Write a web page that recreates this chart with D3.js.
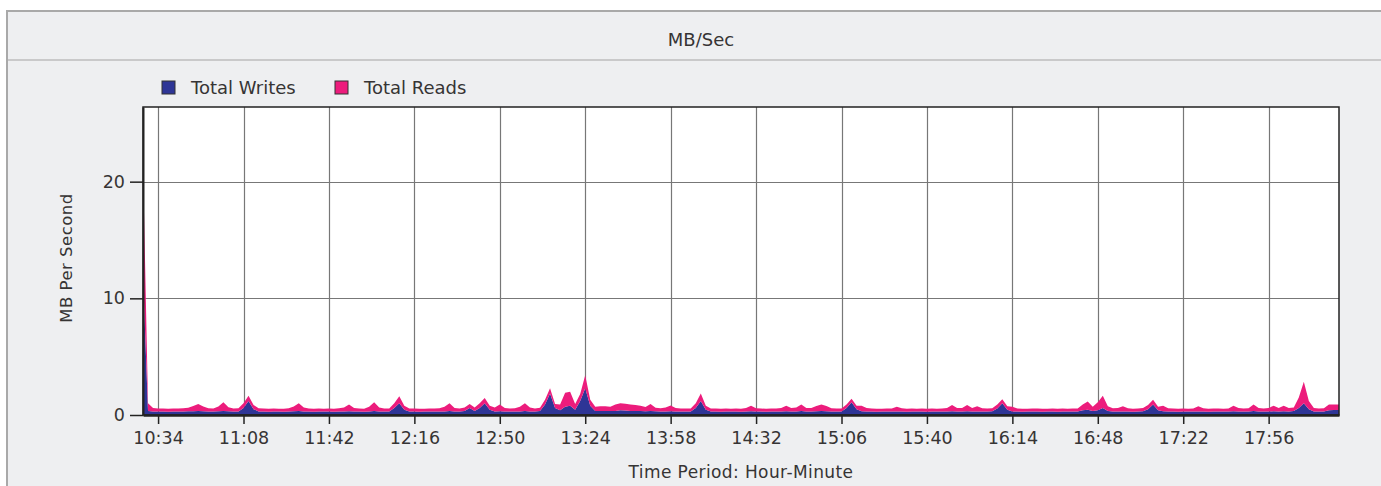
<!DOCTYPE html>
<html>
<head>
<meta charset="utf-8">
<script src="https://cdn.jsdelivr.net/npm/d3@7"></script>
<style>
  html, body { margin: 0; padding: 0; background: #fff; }
  svg { display: block; font-family: "DejaVu Sans", sans-serif; }
</style>
</head>
<body>
<div id="chart"></div>
<script>
const W = 1381, H = 486;
const MARGIN = { top: 107, right: 42, bottom: 71, left: 143 };
const C_WRITES = '#2e3596';
const C_READS  = '#ec1c7c';
const TXT = '#363434';

// samples every 2 minutes starting at 10:28
const START_TIME = '10:28';
const END_TIME   = '18:24';
const STEP_MIN   = 2;

const xTickLabels = ['10:34', '11:08', '11:42', '12:16', '12:50', '13:24', '13:58',
                     '14:32', '15:06', '15:40', '16:14', '16:48', '17:22', '17:56'];
const yTicks = [0, 10, 20];
const yMax = 26.4;

const seriesNames = ['Total Writes', 'Total Reads'];

const writes = [
  12, 0.35, 0.3, 0.3, 0.3, 0.28, 0.3, 0.3, 0.3, 0.32,
  0.32, 0.35, 0.32, 0.3, 0.3, 0.32, 0.35, 0.32, 0.3, 0.3,
  0.6, 1.2, 0.5, 0.3, 0.3, 0.28, 0.3, 0.3, 0.28, 0.3,
  0.32, 0.35, 0.3, 0.3, 0.28, 0.3, 0.3, 0.3, 0.28, 0.3,
  0.3, 0.32, 0.3, 0.3, 0.28, 0.3, 0.35, 0.3, 0.3, 0.3,
  0.6, 1.0, 0.45, 0.3, 0.3, 0.28, 0.3, 0.3, 0.3, 0.3,
  0.3, 0.35, 0.3, 0.3, 0.35, 0.6, 0.35, 0.6, 1.0, 0.45,
  0.3, 0.32, 0.3, 0.3, 0.3, 0.3, 0.35, 0.3, 0.3, 0.35,
  0.9, 1.85, 0.6, 0.4, 0.7, 0.8, 0.45, 1.2, 2.3, 0.8,
  0.35, 0.35, 0.35, 0.35, 0.35, 0.4, 0.38, 0.35, 0.35, 0.35,
  0.33, 0.35, 0.32, 0.3, 0.3, 0.32, 0.3, 0.3, 0.3, 0.3,
  0.6, 1.2, 0.45, 0.3, 0.3, 0.28, 0.3, 0.3, 0.3, 0.28,
  0.3, 0.32, 0.3, 0.3, 0.28, 0.3, 0.3, 0.3, 0.32, 0.3,
  0.3, 0.35, 0.3, 0.3, 0.33, 0.35, 0.33, 0.3, 0.3, 0.3,
  0.6, 1.1, 0.5, 0.32, 0.3, 0.3, 0.28, 0.3, 0.3, 0.3,
  0.3, 0.3, 0.28, 0.3, 0.3, 0.3, 0.28, 0.3, 0.3, 0.3,
  0.3, 0.32, 0.3, 0.3, 0.32, 0.3, 0.3, 0.3, 0.3, 0.32,
  0.55, 1.0, 0.45, 0.3, 0.3, 0.28, 0.3, 0.3, 0.3, 0.28,
  0.3, 0.3, 0.28, 0.3, 0.3, 0.3, 0.3, 0.4, 0.45, 0.35,
  0.4, 0.6, 0.35, 0.3, 0.3, 0.3, 0.3, 0.28, 0.3, 0.32,
  0.5, 0.9, 0.4, 0.32, 0.3, 0.3, 0.28, 0.3, 0.3, 0.3,
  0.3, 0.3, 0.28, 0.3, 0.3, 0.3, 0.3, 0.32, 0.3, 0.3,
  0.3, 0.35, 0.3, 0.3, 0.3, 0.32, 0.3, 0.32, 0.3, 0.35,
  0.6, 1.0, 0.5, 0.3, 0.3, 0.3, 0.4, 0.42, 0.42
];

const reads = [
  9.5, 0.65, 0.3, 0.25, 0.25, 0.25, 0.26, 0.25, 0.28, 0.3,
  0.45, 0.6, 0.4, 0.28, 0.25, 0.4, 0.75, 0.35, 0.25, 0.28,
  0.4, 0.45, 0.35, 0.28, 0.25, 0.25, 0.26, 0.24, 0.25, 0.27,
  0.4, 0.65, 0.35, 0.25, 0.26, 0.25, 0.24, 0.26, 0.25, 0.28,
  0.35, 0.58, 0.3, 0.25, 0.26, 0.4, 0.75, 0.35, 0.25, 0.26,
  0.4, 0.6, 0.35, 0.26, 0.25, 0.25, 0.24, 0.26, 0.25, 0.28,
  0.4, 0.65, 0.3, 0.26, 0.3, 0.35, 0.3, 0.4, 0.45, 0.35,
  0.35, 0.58, 0.3, 0.26, 0.28, 0.4, 0.65, 0.35, 0.26, 0.28,
  0.4, 0.45, 0.35, 0.5, 1.2, 1.2, 0.5, 0.6, 1.1, 0.5,
  0.35, 0.4, 0.4, 0.35, 0.55, 0.6, 0.58, 0.55, 0.5, 0.45,
  0.35, 0.6, 0.3, 0.28, 0.35, 0.5, 0.3, 0.26, 0.25, 0.26,
  0.4, 0.65, 0.35, 0.26, 0.25, 0.25, 0.26, 0.24, 0.25, 0.26,
  0.3, 0.48, 0.28, 0.25, 0.26, 0.25, 0.26, 0.3, 0.48, 0.3,
  0.35, 0.55, 0.3, 0.3, 0.45, 0.55, 0.45, 0.28, 0.25, 0.26,
  0.3, 0.3, 0.3, 0.48, 0.3, 0.25, 0.26, 0.24, 0.25, 0.26,
  0.4, 0.28, 0.26, 0.25, 0.24, 0.25, 0.26, 0.25, 0.24, 0.25,
  0.3, 0.53, 0.3, 0.3, 0.53, 0.3, 0.45, 0.28, 0.25, 0.26,
  0.35, 0.35, 0.3, 0.4, 0.26, 0.25, 0.24, 0.25, 0.26, 0.25,
  0.24, 0.25, 0.26, 0.25, 0.24, 0.25, 0.26, 0.5, 0.7, 0.35,
  0.7, 1.05, 0.4, 0.28, 0.3, 0.45, 0.28, 0.25, 0.26, 0.28,
  0.35, 0.4, 0.3, 0.48, 0.28, 0.25, 0.26, 0.25, 0.24, 0.26,
  0.45, 0.28, 0.25, 0.26, 0.25, 0.24, 0.26, 0.48, 0.3, 0.26,
  0.28, 0.55, 0.3, 0.26, 0.3, 0.48, 0.3, 0.48, 0.3, 0.3,
  0.9, 1.85, 0.7, 0.3, 0.26, 0.28, 0.5, 0.48, 0.48
];

const toMin = s => { const [h, m] = s.split(':').map(Number); return h * 60 + m; };

const data = writes.map((w, i) => ({
  t: toMin(START_TIME) + i * STEP_MIN,
  writes: w,
  reads: reads[i]
}));

const svg = d3.select('#chart').append('svg').attr('width', W).attr('height', H);

// panel
svg.append('rect').attr('x', 7).attr('y', 11).attr('width', W + 20).attr('height', H + 20)
  .attr('fill', '#eeeff1').attr('stroke', '#a9a9a9').attr('stroke-width', 2);
svg.append('line').attr('x1', 8).attr('x2', W).attr('y1', 60).attr('y2', 60)
  .attr('stroke', '#bdbdbd').attr('stroke-width', 1.5);
svg.append('text').attr('x', 701).attr('y', 46).attr('text-anchor', 'middle')
  .attr('fill', TXT).style('font-size', '18px').text('MB/Sec');

const w = W - MARGIN.left - MARGIN.right;
const h = H - MARGIN.top - MARGIN.bottom;

const x = d3.scaleLinear().domain([toMin(START_TIME), toMin(END_TIME)]).range([MARGIN.left, MARGIN.left + w]);
const y = d3.scaleLinear().domain([0, yMax]).range([MARGIN.top + h, MARGIN.top]);

svg.append('rect').attr('x', MARGIN.left).attr('y', MARGIN.top).attr('width', w).attr('height', h)
  .attr('fill', '#fff');

// grid
const grid = svg.append('g');
grid.selectAll('.vg').data(xTickLabels).enter().append('line')
  .attr('x1', d => Math.round(x(toMin(d))) + 0.5).attr('x2', d => Math.round(x(toMin(d))) + 0.5)
  .attr('y1', MARGIN.top).attr('y2', MARGIN.top + h)
  .attr('stroke', '#777').attr('stroke-width', 1.2);
grid.selectAll('.hg').data(yTicks.filter(v => v > 0)).enter().append('line')
  .attr('x1', MARGIN.left).attr('x2', MARGIN.left + w)
  .attr('y1', d => Math.round(y(d)) + 0.5).attr('y2', d => Math.round(y(d)) + 0.5)
  .attr('stroke', '#777').attr('stroke-width', 1.2);

// stacked areas
const stacked = d3.stack().keys(['writes', 'reads'])(data);
const area = d3.area()
  .x(d => x(d.data.t))
  .y0(d => y(d[0]))
  .y1(d => y(d[1]));

svg.append('clipPath').attr('id', 'clip').append('rect')
  .attr('x', MARGIN.left).attr('y', MARGIN.top).attr('width', w).attr('height', h);

svg.append('g').attr('clip-path', 'url(#clip)')
  .selectAll('path').data(stacked).enter().append('path')
  .attr('d', area)
  .attr('fill', (d, i) => [C_WRITES, C_READS][i]);

// frame
svg.append('rect').attr('x', MARGIN.left).attr('y', MARGIN.top).attr('width', w).attr('height', h)
  .attr('fill', 'none').attr('stroke', '#222').attr('stroke-width', 1.5);

// axes
const xAxis = d3.axisBottom(x)
  .tickValues(xTickLabels.map(toMin))
  .tickFormat((d, i) => xTickLabels[i])
  .tickSize(9).tickSizeOuter(0);
const gx = svg.append('g').attr('transform', `translate(0,${MARGIN.top + h})`).call(xAxis);
gx.select('.domain').attr('stroke', '#222').attr('stroke-width', 2.5);
gx.selectAll('.tick line').attr('stroke', '#222').attr('stroke-width', 1.5);
gx.selectAll('.tick text').attr('fill', TXT).attr('dy', '0.95em')
  .style('font-size', '17.5px').style('font-family', '"DejaVu Sans", sans-serif');

const yAxis = d3.axisLeft(y).tickValues(yTicks).tickSize(13).tickSizeOuter(0).tickPadding(5);
const gy = svg.append('g').attr('transform', `translate(${MARGIN.left},0)`).call(yAxis);
gy.select('.domain').attr('stroke', '#222').attr('stroke-width', 2);
gy.selectAll('.tick line').attr('stroke', '#222').attr('stroke-width', 1.5);
gy.selectAll('.tick text').attr('fill', TXT)
  .style('font-size', '17.5px').style('font-family', '"DejaVu Sans", sans-serif');

svg.append('text').attr('transform', `translate(72,${MARGIN.top + h / 2 - 3}) rotate(-90)`)
  .attr('text-anchor', 'middle').attr('fill', TXT).style('font-size', '16.5px')
  .style('letter-spacing', '0.5px').text('MB Per Second');
svg.append('text').attr('x', 741).attr('y', 478).attr('text-anchor', 'middle')
  .attr('fill', TXT).style('font-size', '17px').style('letter-spacing', '0.4px')
  .text('Time Period: Hour-Minute');

// legend
const legend = svg.append('g').attr('transform', 'translate(162,81)');
const legendX = [0, 173];
seriesNames.forEach((name, i) => {
  const lg = legend.append('g').attr('transform', `translate(${legendX[i]},0)`);
  lg.append('rect').attr('width', 13).attr('height', 13)
    .attr('fill', [C_WRITES, C_READS][i]).attr('stroke', '#333').attr('stroke-width', 1);
  lg.append('text').attr('x', 29).attr('y', 13).attr('fill', TXT)
    .style('font-size', '18px').text(name);
});
</script>
</body>
</html>
